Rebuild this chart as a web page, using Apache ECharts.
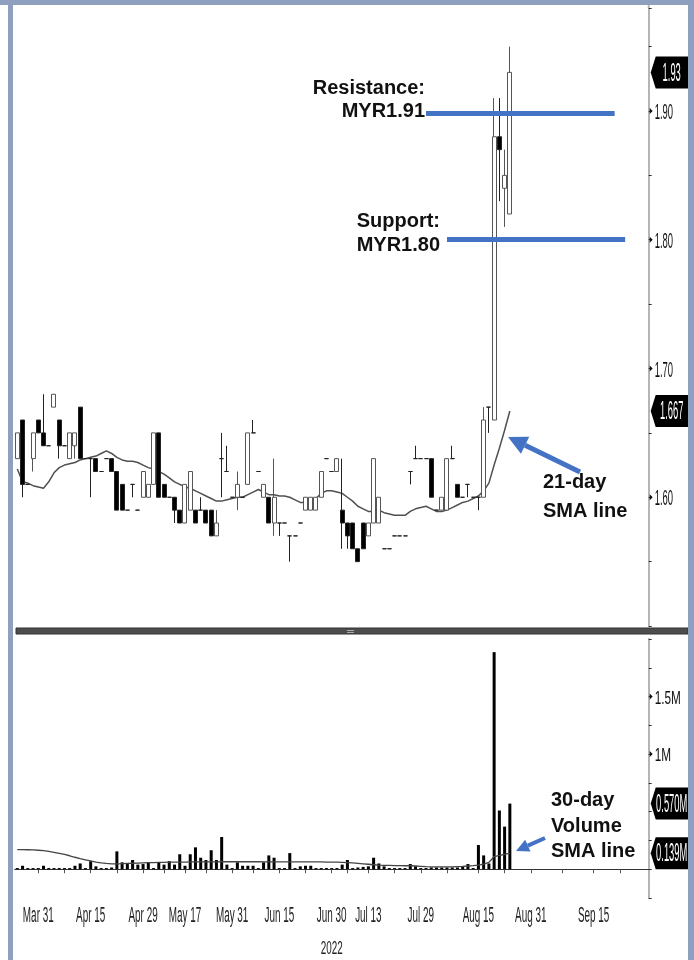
<!DOCTYPE html>
<html>
<head>
<meta charset="utf-8">
<script src="https://cdn.jsdelivr.net/npm/echarts@6/dist/echarts.min.js"></script>
<style>
  html, body { margin: 0; padding: 0; background: #fff; }
  #chart { width: 694px; height: 960px; }
</style>
</head>
<body>
<div id="chart"></div>
<script>
// daily bars, Mar 28 - Aug 24 2022 (one entry per trading day)
const opens = [
  1.63, 1.66, 1.61, 1.63, 1.66, 1.65, 1.64, 1.67, 1.66, 1.64,
  1.63, 1.64, 1.67, 1.63, 1.63, 1.63, 1.62, 1.63, 1.63, 1.62,
  1.61, 1.59, 1.61, 1.59, 1.60, 1.60, 1.61, 1.65, 1.61, 1.60,
  1.60, 1.59, 1.58, 1.59, 1.59, 1.59, 1.59, 1.59, 1.57, 1.63,
  1.62, 1.60, 1.60, 1.60, 1.61, 1.65, 1.62, 1.60, 1.60, 1.58,
  1.58, 1.58, 1.57, 1.57, 1.58, 1.59, 1.59, 1.59, 1.60, 1.63,
  1.62, 1.62, 1.59, 1.58, 1.58, 1.56, 1.58, 1.57, 1.58, 1.58,
  1.56, 1.56, 1.57, 1.57, 1.57, 1.62, 1.63, 1.63, 1.63, 1.63,
  1.59, 1.59, 1.59, 1.63, 1.61, 1.60, 1.61, 1.60, 1.60, 1.60,
  1.67, 1.66, 1.88, 1.84, 1.82
];
const closes = [
  1.65, 1.61, 1.61, 1.65, 1.65, 1.64, 1.64, 1.68, 1.64, 1.64,
  1.65, 1.65, 1.63, 1.63, 1.63, 1.62, 1.62, 1.63, 1.62, 1.59,
  1.59, 1.59, 1.61, 1.59, 1.62, 1.61, 1.65, 1.60, 1.60, 1.60,
  1.59, 1.58, 1.61, 1.62, 1.58, 1.59, 1.58, 1.57, 1.58, 1.63,
  1.62, 1.60, 1.61, 1.60, 1.65, 1.65, 1.62, 1.61, 1.58, 1.60,
  1.58, 1.58, 1.57, 1.57, 1.58, 1.60, 1.60, 1.60, 1.62, 1.63,
  1.62, 1.63, 1.58, 1.57, 1.56, 1.55, 1.56, 1.58, 1.63, 1.60,
  1.56, 1.56, 1.57, 1.57, 1.57, 1.62, 1.63, 1.63, 1.63, 1.60,
  1.59, 1.60, 1.63, 1.63, 1.60, 1.60, 1.61, 1.60, 1.60, 1.66,
  1.67, 1.88, 1.87, 1.85, 1.93
];
const lows = [
  1.63, 1.60, 1.61, 1.62, 1.65, 1.64, 1.64, 1.67, 1.63, 1.64,
  1.63, 1.63, 1.63, 1.63, 1.60, 1.62, 1.62, 1.63, 1.62, 1.59,
  1.59, 1.59, 1.60, 1.59, 1.60, 1.60, 1.61, 1.60, 1.60, 1.60,
  1.58, 1.58, 1.58, 1.59, 1.58, 1.59, 1.58, 1.57, 1.57, 1.60,
  1.62, 1.60, 1.59, 1.60, 1.61, 1.65, 1.62, 1.60, 1.58, 1.57,
  1.57, 1.58, 1.55, 1.57, 1.58, 1.59, 1.59, 1.59, 1.60, 1.63,
  1.62, 1.62, 1.56, 1.56, 1.56, 1.55, 1.56, 1.57, 1.58, 1.58,
  1.56, 1.56, 1.57, 1.57, 1.57, 1.61, 1.63, 1.63, 1.63, 1.60,
  1.59, 1.59, 1.59, 1.63, 1.60, 1.60, 1.60, 1.60, 1.59, 1.60,
  1.65, 1.66, 1.83, 1.81, 1.82
];
const highs = [
  1.65, 1.66, 1.61, 1.65, 1.66, 1.68, 1.64, 1.68, 1.66, 1.64,
  1.65, 1.65, 1.67, 1.63, 1.63, 1.63, 1.62, 1.63, 1.63, 1.62,
  1.61, 1.59, 1.61, 1.59, 1.62, 1.61, 1.65, 1.65, 1.61, 1.60,
  1.60, 1.59, 1.61, 1.62, 1.59, 1.60, 1.59, 1.59, 1.59, 1.65,
  1.64, 1.60, 1.62, 1.60, 1.65, 1.66, 1.62, 1.61, 1.60, 1.63,
  1.58, 1.58, 1.57, 1.57, 1.58, 1.60, 1.60, 1.60, 1.62, 1.63,
  1.62, 1.63, 1.63, 1.58, 1.58, 1.56, 1.58, 1.58, 1.63, 1.60,
  1.56, 1.56, 1.57, 1.57, 1.57, 1.62, 1.64, 1.63, 1.63, 1.63,
  1.59, 1.60, 1.63, 1.64, 1.61, 1.60, 1.61, 1.60, 1.60, 1.67,
  1.67, 1.91, 1.91, 1.87, 1.95
];
// 21-day SMA as drawn on the chart
const sma21 = [
  1.622, 1.612, 1.611, 1.609, 1.608, 1.607, 1.612, 1.619, 1.623, 1.625,
  1.626, 1.627, 1.629, 1.630, 1.631, 1.632, 1.634, 1.636, 1.634, 1.631,
  1.629, 1.628, 1.628, 1.627, 1.625, 1.623, 1.622, 1.620, 1.618, 1.615,
  1.612, 1.610, 1.608, 1.607, 1.605, 1.603, 1.601, 1.599, 1.597, 1.597,
  1.598, 1.599, 1.600, 1.600, 1.602, 1.604, 1.606, 1.604, 1.602, 1.602,
  1.601, 1.601, 1.600, 1.598, 1.596, 1.596, 1.597, 1.599, 1.603, 1.605,
  1.605, 1.604, 1.603, 1.600, 1.597, 1.593, 1.591, 1.589, 1.589, 1.590,
  1.588, 1.587, 1.586, 1.586, 1.586, 1.589, 1.591, 1.592, 1.593, 1.591,
  1.589, 1.589, 1.590, 1.592, 1.594, 1.596, 1.597, 1.599, 1.601, 1.605,
  1.611, 1.625, 1.638, 1.652, 1.667
];
// volume, millions of shares
const volumes = [
  0.01, 0.03, 0.01, 0.01, 0.01, 0.03, 0.01, 0.01, 0.01, 0.01,
  0.01, 0.03, 0.05, 0.01, 0.07, 0.025, 0.01, 0.01, 0.015, 0.155,
  0.06, 0.045, 0.08, 0.04, 0.045, 0.06, 0.01, 0.06, 0.04, 0.07,
  0.04, 0.13, 0.03, 0.13, 0.19, 0.10, 0.08, 0.165, 0.08, 0.28,
  0.04, 0.01, 0.06, 0.03, 0.03, 0.03, 0.01, 0.06, 0.12, 0.10,
  0.01, 0.01, 0.14, 0.01, 0.025, 0.03, 0.03, 0.01, 0.01, 0.01,
  0.01, 0.01, 0.04, 0.08, 0.01, 0.015, 0.02, 0.025, 0.10, 0.05,
  0.025, 0.01, 0.01, 0.01, 0.01, 0.045, 0.025, 0.01, 0.01, 0.015,
  0.015, 0.015, 0.015, 0.015, 0.015, 0.025, 0.045, 0.01, 0.21, 0.12,
  0.05, 1.886, 0.51, 0.37, 0.570
];
const volSma30 = [
  0.170, 0.170, 0.169, 0.168, 0.165, 0.161, 0.155, 0.147, 0.138, 0.128,
  0.117, 0.104, 0.092, 0.082, 0.072, 0.062, 0.055, 0.050, 0.047, 0.047,
  0.048, 0.050, 0.052, 0.053, 0.055, 0.057, 0.058, 0.059, 0.060, 0.061,
  0.062, 0.062, 0.062, 0.063, 0.063, 0.063, 0.064, 0.064, 0.064, 0.065,
  0.065, 0.065, 0.065, 0.065, 0.065, 0.065, 0.065, 0.064, 0.064, 0.064,
  0.064, 0.064, 0.064, 0.064, 0.064, 0.064, 0.064, 0.063, 0.063, 0.062,
  0.062, 0.061, 0.060, 0.058, 0.055, 0.051, 0.047, 0.043, 0.039, 0.035,
  0.034, 0.033, 0.032, 0.031, 0.030, 0.030, 0.028, 0.025, 0.022, 0.020,
  0.020, 0.020, 0.020, 0.021, 0.023, 0.025, 0.028, 0.031, 0.035, 0.045,
  0.060, 0.110, 0.120, 0.128, 0.139
];
// x axis: slots run past the last bar to the end of September
const slotCount = 121;
const tickLabels = ['Mar 31', 'Apr 15', 'Apr 29', 'May 17', 'May 31', 'Jun 15',
  'Jun 30', 'Jul 13', 'Jul 29', 'Aug 15', 'Aug 31', 'Sep 15'];
const tickSlots = [4, 14, 24, 32, 41, 50, 60, 67, 77, 88, 98, 110];
const minorTickSlots = [9, 19, 28, 36, 45, 55, 63, 72, 82, 93, 104, 115];
const yearLabel = '2022';
const priceLabels = [1.6, 1.7, 1.8, 1.9];
const volumeLabels = [1, 1.5];

const resistance = { value: 1.898, from: 78, to: 114 };
const support = { value: 1.80, from: 82, to: 116 };

const sans = '"Liberation Sans", Arial, sans-serif';
const blue = '#4472C4';
const frame = '#8ea0bd';
const axisX = 648.7;

const slots = Array.from({ length: slotCount }, (_, i) => String(i));
const candles = opens.map((o, i) => [o, closes[i], lows[i], highs[i]]);
const last = arr => arr[arr.length - 1];

// squeezed text, like the terminal's condensed font
const thin = (x, y, text, size, sx, align, fill) => ({
  type: 'text', x, y, scaleX: sx, z: 100,
  style: { text, fill, font: `${size}px ${sans}`, textAlign: align, textVerticalAlign: 'middle' },
});

const arrow = (tail, tip, headLen, headW, shaft) => {
  const dx = tip[0] - tail[0];
  const dy = tip[1] - tail[1];
  const len = Math.hypot(dx, dy);
  const ux = dx / len, uy = dy / len;
  const bx = tip[0] - ux * headLen, by = tip[1] - uy * headLen;
  const nx = -uy * headW / 2, ny = ux * headW / 2;
  return [
    { type: 'line', shape: { x1: tail[0], y1: tail[1], x2: bx, y2: by },
      style: { stroke: blue, lineWidth: shaft } },
    { type: 'polygon', shape: { points: [tip, [bx + nx, by + ny], [bx - nx, by - ny]] },
      style: { fill: blue } },
  ];
};

const note = (x, y, text, align) => ({
  type: 'text', x, y,
  style: { text, fill: '#111', font: `bold 20px ${sans}`, textAlign: align, textVerticalAlign: 'middle' },
});

const chart = echarts.init(document.getElementById('chart'));
chart.setOption({
  animation: false,
  backgroundColor: '#fff',
  grid: [
    { left: 14.7, right: 45.3, top: 8, height: 618 },
    { left: 14.7, right: 45.3, top: 639, height: 259 },
  ],
  xAxis: [
    {
      type: 'category', gridIndex: 0, data: slots, boundaryGap: true,
      axisLine: { show: false }, axisTick: { show: false }, axisLabel: { show: false },
    },
    {
      type: 'category', gridIndex: 1, data: slots, boundaryGap: true,
      axisLine: { show: true, lineStyle: { color: '#333', width: 1 } },
      axisTick: {
        show: true, alignWithLabel: true, length: 4,
        interval: i => minorTickSlots.includes(i) || tickSlots.includes(i),
        lineStyle: { color: '#555' },
      },
      axisLabel: { show: false },
    },
  ],
  yAxis: [
    {
      type: 'value', gridIndex: 0, position: 'right', min: 1.5, max: 1.98, interval: 0.05,
      axisLine: { show: true, lineStyle: { color: '#b5b5b5', width: 2 } },
      axisTick: { show: true, length: 3, lineStyle: { color: '#333' } },
      axisLabel: { show: false },
      splitLine: { show: false },
    },
    {
      type: 'value', gridIndex: 1, position: 'right', min: -0.25, max: 2, interval: 0.25,
      axisLine: { show: true, lineStyle: { color: '#b5b5b5', width: 2 } },
      axisTick: { show: true, length: 3, lineStyle: { color: '#333' } },
      axisLabel: { show: false },
      splitLine: { show: false },
    },
  ],
  series: [
    {
      type: 'candlestick', xAxisIndex: 0, yAxisIndex: 0, data: candles, barWidth: 4.5,
      itemStyle: {
        color: '#fff', color0: '#000',
        borderColor: '#555', borderColor0: '#222', borderColorDoji: '#222', borderWidth: 1,
      },
      markLine: {
        symbol: ['none', 'none'], silent: true, label: { show: false },
        lineStyle: { type: 'solid', color: blue, width: 5 },
        data: [
          [{ coord: [resistance.from, resistance.value] }, { coord: [resistance.to, resistance.value] }],
          [{ coord: [support.from, support.value] }, { coord: [support.to, support.value] }],
        ],
      },
    },
    {
      type: 'line', xAxisIndex: 0, yAxisIndex: 0, data: sma21,
      symbol: 'none', lineStyle: { color: '#505050', width: 1.5 }, z: 1,
    },
    {
      type: 'bar', xAxisIndex: 1, yAxisIndex: 1, data: volumes, barWidth: 3,
      itemStyle: { color: '#000' },
    },
    {
      type: 'line', xAxisIndex: 1, yAxisIndex: 1, data: volSma30,
      symbol: 'none', lineStyle: { color: '#444', width: 1.3 },
    },
  ],
});

// labels placed through the chart's own scales
const toPx = (grid, slot, v) => chart.convertToPixel({ gridIndex: grid }, [slot, v]);
const marks = [];

tickSlots.forEach((s, k) => {
  const [x, y] = toPx(1, s, -0.25);
  marks.push(thin(x, y + 18, tickLabels[k], 22, 0.45, 'center', '#222'));
});
const [yearX, yearY] = toPx(1, (slotCount - 1) / 2, -0.25);
marks.push(thin(yearX, yearY + 51, yearLabel, 19, 0.52, 'center', '#222'));

const axisMark = (y, text, size, sx) => {
  marks.push({ type: 'polygon', z: 100,
    shape: { points: [[axisX + 1, y - 3], [axisX + 4, y], [axisX + 1, y + 3]] }, style: { fill: '#111' } });
  marks.push(thin(axisX + 6, y + 2, text, size, sx, 'left', '#111'));
};
priceLabels.forEach(v => axisMark(toPx(0, 0, v)[1], v.toFixed(2), 22, 0.43));
volumeLabels.forEach(v => axisMark(toPx(1, 0, v)[1], v + 'M', 19, 0.62));

const valueBox = (y, text) => {
  marks.push({ type: 'polygon', z: 100,
    shape: { points: [[axisX + 2, y], [axisX + 7, y - 16], [axisX + 40, y - 16], [axisX + 40, y + 16], [axisX + 7, y + 16]] },
    style: { fill: '#000' } });
  marks.push(thin(axisX + 23, y + 1, text, 26, 0.36, 'center', '#fff'));
};
valueBox(toPx(0, 0, last(closes))[1], last(closes).toFixed(2));
valueBox(toPx(0, 0, last(sma21))[1], last(sma21).toFixed(3));
valueBox(toPx(1, 0, last(volumes))[1], last(volumes).toFixed(3) + 'M');
valueBox(toPx(1, 0, last(volSma30))[1], last(volSma30).toFixed(3) + 'M');

chart.setOption({
  graphic: [
    // frame
    { type: 'rect', shape: { x: 0, y: 0, width: 694, height: 5 }, style: { fill: frame } },
    { type: 'rect', shape: { x: 8, y: 0, width: 5, height: 960 }, style: { fill: frame } },
    { type: 'rect', shape: { x: 688, y: 0, width: 6, height: 960 }, style: { fill: frame }, z: 101 },
    { type: 'line', shape: { x1: axisX, y1: 5, x2: axisX, y2: 8 }, style: { stroke: '#b5b5b5', lineWidth: 2 } },
    // panel divider
    { type: 'rect', shape: { x: 16, y: 628, width: 672, height: 6 },
      style: { fill: '#4d4d4d', stroke: '#333', lineWidth: 1 } },
    { type: 'rect', shape: { x: 347, y: 630, width: 7, height: 1 }, style: { fill: '#aaa' } },
    { type: 'rect', shape: { x: 347, y: 632, width: 7, height: 1 }, style: { fill: '#aaa' } },
    // annotations
    note(425, 88, 'Resistance:', 'right'),
    note(425, 111, 'MYR1.91', 'right'),
    note(440, 221, 'Support:', 'right'),
    note(440, 245, 'MYR1.80', 'right'),
    note(543, 482, '21-day', 'left'),
    note(543, 511, 'SMA line', 'left'),
    note(551, 800, '30-day', 'left'),
    note(551, 826, 'Volume', 'left'),
    note(551, 851, 'SMA line', 'left'),
    ...arrow([580, 472], [508, 437], 19, 19, 5),
    ...arrow([545, 838], [516, 851], 13, 13, 4),
    ...marks,
  ],
});
</script>
</body>
</html>
